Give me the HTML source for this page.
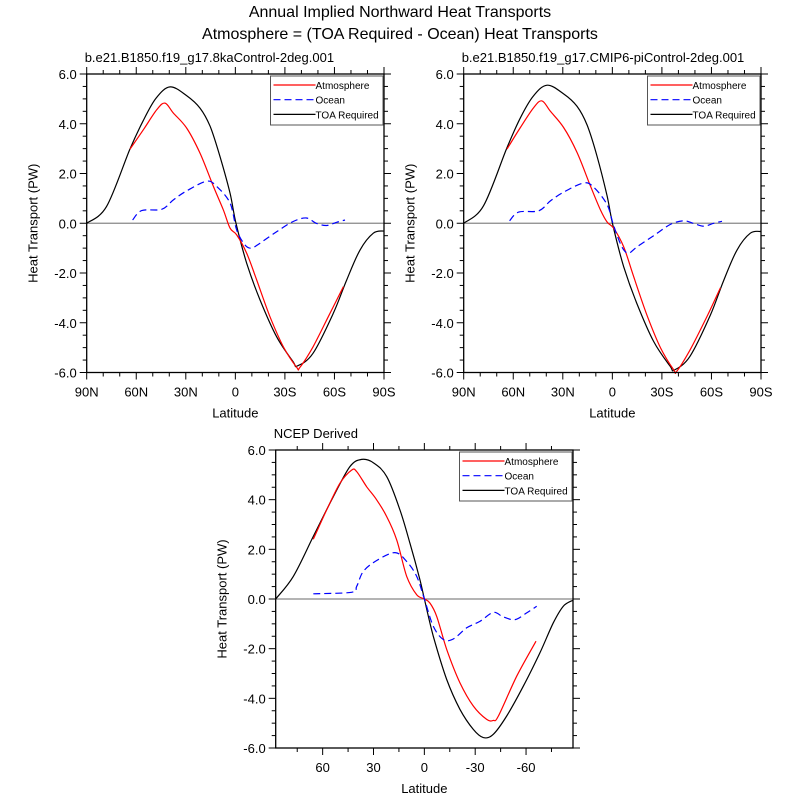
<!DOCTYPE html>
<html><head><meta charset="utf-8">
<style>
body{margin:0;background:#fff;}
svg{display:block;font-family:"Liberation Sans",sans-serif;}
</style></head>
<body>
<svg id="chart" width="800" height="800" viewBox="0 0 800 800">
<text x="400" y="17" text-anchor="middle" font-size="16">Annual Implied Northward Heat Transports</text>
<text x="400" y="39" text-anchor="middle" font-size="16">Atmosphere = (TOA Required - Ocean) Heat Transports</text>
</svg>
<script>
// ---- Data (latitude, PW) ----
const p1Lat_toa=[90,78,64,56,48,39.5,29.5,21.4,15.3,9.3,3.2,-0.4,-6.9,-15,-25,-35,-37.5,-47,-59.3,-67.4,-75.5,-83.5,-90];
const p1Val_toa=[0,0.67,2.95,4.1,5.03,5.48,5.13,4.63,3.9,2.68,1.2,0,-1.61,-3.09,-4.56,-5.57,-5.74,-5.23,-3.62,-2.28,-1.07,-0.4,-0.31];
const p1Lat_atm=[63.8,55.7,47.6,42.6,37.5,29.5,21.4,13.3,7.3,3.2,-0.8,-6.9,-12.9,-21,-29.1,-37.2,-39,-47,-57.3,-65.4];
const p1Val_atm=[2.98,3.76,4.56,4.83,4.43,3.83,2.82,1.48,0.54,-0.2,-0.47,-1.21,-2.28,-3.76,-4.97,-5.8,-5.8,-4.97,-3.62,-2.55];
const p1Lat_ocn=[62.2,56.7,44.6,37.5,29.5,17.4,11.3,3.2,-0.8,-5.8,-9.8,-14.9,-25,-35,-43,-49,-55.3,-61.3,-66.4];
const p1Val_ocn=[0.13,0.51,0.56,0.94,1.3,1.69,1.48,0.81,-0.27,-0.87,-1.0,-0.8,-0.34,0.07,0.21,0,-0.09,0.04,0.13];

const p2Lat_toa=[90,78,64,56,48,39.5,29.5,21.4,15.3,9.3,3.2,-0.4,-6.9,-15,-25,-35,-37.5,-47,-59.3,-67.4,-75.5,-83.5,-90];
const p2Val_toa=[0,0.7,3.0,4.2,5.1,5.55,5.2,4.7,3.95,2.7,1.1,-0.1,-1.75,-3.25,-4.75,-5.75,-5.9,-5.35,-3.7,-2.3,-1.07,-0.4,-0.33];
const p2Lat_atm=[63.8,55.7,47.6,42.6,37.5,29.5,21.4,13.3,7.3,3.2,-0.8,-6.9,-12.9,-21,-29.1,-37.2,-39,-47,-57.3,-65.4];
const p2Val_atm=[2.98,3.85,4.65,4.92,4.5,3.85,2.85,1.5,0.55,0.05,-0.2,-0.95,-2.15,-3.7,-5.0,-5.9,-5.95,-5.1,-3.75,-2.6];
const p2Lat_ocn=[62.2,56.7,44.6,37.5,29.5,17.4,11.3,3.2,-0.8,-5.8,-9.8,-14.9,-25,-35,-43,-49,-55.3,-61.3,-66.4];
const p2Val_ocn=[0.1,0.45,0.5,0.9,1.25,1.62,1.45,0.75,-0.1,-0.95,-1.2,-0.95,-0.5,-0.05,0.1,0.0,-0.12,0.0,0.08];

const p3Lat_toa=[87.7,77.3,65.5,53.7,43.9,37,30.1,22.2,14.4,8.5,2.6,0,-5.3,-13.2,-21,-28.9,-34.8,-40.7,-48.6,-58.4,-68.2,-76.1,-82,-87.7];
const p3Val_toa=[0,0.91,2.52,4.12,5.33,5.62,5.49,4.93,3.59,2.25,0.78,0,-1.5,-3.24,-4.44,-5.25,-5.58,-5.45,-4.71,-3.51,-2.17,-0.96,-0.29,-0.05];
const p3Lat_atm=[65.5,57.6,49.8,42.9,39.9,34,28.1,22.2,16.3,10.4,4.5,0,-3.3,-7.3,-13.2,-21,-28.9,-36.8,-40.7,-43.7,-54.5,-65.9];
const p3Val_atm=[2.41,3.59,4.66,5.19,5.13,4.52,3.99,3.32,2.38,0.91,0.17,0,-0.16,-0.7,-2.03,-3.37,-4.31,-4.85,-4.89,-4.71,-3.11,-1.7];
const p3Lat_ocn=[65.5,42.9,39.9,36,28.1,17.3,10.4,4.5,0,-5.3,-11.2,-17.1,-25,-32.8,-40.7,-46.6,-53.5,-60.4,-66.3];
const p3Val_ocn=[0.21,0.27,0.51,1.11,1.55,1.87,1.51,0.91,0,-1.1,-1.63,-1.61,-1.16,-0.9,-0.54,-0.72,-0.83,-0.56,-0.29];

const yTicks=[6,4,2,0,-2,-4,-6];
const yTickLabels=["6.0","4.0","2.0","0.0","-2.0","-4.0","-6.0"];
const xTicksAB=[90,60,30,0,-30,-60,-90];
const xTickLabelsAB=["90N","60N","30N","0","30S","60S","90S"];
const xTicksC=[60,30,0,-30,-60];
const xTickLabelsC=["60","30","0","-30","-60"];

const svg=document.getElementById('chart');
const NS='http://www.w3.org/2000/svg';
function mk(tag,attrs,parent){const e=document.createElementNS(NS,tag);for(const k in attrs)e.setAttribute(k,attrs[k]);(parent||svg).appendChild(e);return e;}

function pathFrom(pts){
  let d='M'+pts[0][0].toFixed(1)+','+pts[0][1].toFixed(1);
  for(let i=0;i<pts.length-1;i++){
    const p0=pts[i-1]||pts[i],p1=pts[i],p2=pts[i+1],p3=pts[i+2]||p2;
    const c1=[p1[0]+(p2[0]-p0[0])/6,p1[1]+(p2[1]-p0[1])/6];
    const c2=[p2[0]-(p3[0]-p1[0])/6,p2[1]-(p3[1]-p1[1])/6];
    d+=' C'+c1[0].toFixed(1)+','+c1[1].toFixed(1)+' '+c2[0].toFixed(1)+','+c2[1].toFixed(1)+' '+p2[0].toFixed(1)+','+p2[1].toFixed(1);
  }
  return d;
}

function panel(cfg){
  const g=mk('g',{});
  
  
  const L=cfg.x,T=cfg.y,W=cfg.w,H=cfg.h;
  const xs=lat=>L+(cfg.latMax-lat)/(2*cfg.latMax)*W;
  const ys=v=>T+(6-v)/12*H;
  // subtitle
  const st=mk('text',{x:L-2,y:T-12,'font-size':13},g);st.textContent=cfg.sub;
  
  
  // zero line
  const zl=mk('line',{x1:L,x2:L+W,y1:ys(0),y2:ys(0),stroke:'#888','stroke-width':1.2},g);
  
  
  // y ticks
  for(let v=-6;v<=6.001;v+=0.5){
    const maj=Math.abs(v%2)<1e-6, len=maj?7:4, y=ys(v);
    mk('line',{x1:L-len,x2:L,y1:y,y2:y,stroke:'#000','stroke-width':1},g);
    mk('line',{x1:L+W,x2:L+W+len,y1:y,y2:y,stroke:'#000','stroke-width':1},g);
  }
  yTicks.forEach((v,i)=>{const t=mk('text',{x:L-10,y:ys(v)+5,'text-anchor':'end','font-size':13},g);t.textContent=yTickLabels[i];
    
    });
  // x ticks
  for(let lat=-cfg.minorLim;lat<=cfg.minorLim+0.001;lat+=cfg.minor){
    const maj=Math.abs(lat%30)<1e-6, len=maj?7:4, x=xs(lat);
    mk('line',{x1:x,x2:x,y1:T+H,y2:T+H+len,stroke:'#000','stroke-width':1},g);
    mk('line',{x1:x,x2:x,y1:T-len,y2:T,stroke:'#000','stroke-width':1},g);
  }
  cfg.ticks.forEach((lat,i)=>{const t=mk('text',{x:xs(lat),y:T+H+24,'text-anchor':'middle','font-size':13},g);t.textContent=cfg.labels[i];
    
    });
  const xl=mk('text',{x:L+W/2,y:T+H+45,'text-anchor':'middle','font-size':13},g);xl.textContent='Latitude';
  
  
  const yl=mk('text',{x:0,y:0,'text-anchor':'middle','font-size':13,transform:`translate(${L-49},${T+H/2}) rotate(-90)`},g);yl.textContent='Heat Transport (PW)';
  
  
  // series
  const series=[
    [cfg.toaLat,cfg.toaVal,'#000','', 'toa-required-line'],
    [cfg.atmLat,cfg.atmVal,'#ff0000','','atmosphere-line'],
    [cfg.ocnLat,cfg.ocnVal,'#0000ff','7,4','ocean-line']];
  series.forEach(s=>{
    const pts=s[0].map((lat,i)=>[xs(lat),ys(s[1][i])]);
    const p=mk('path',{d:pathFrom(pts),fill:'none',stroke:s[2],'stroke-width':1.2,'stroke-dasharray':s[3]||'none'},g);
    
    
  });
  // frame
  const fr=mk('rect',{x:L,y:T,width:W,height:H,fill:'none',stroke:'#000','stroke-width':1.3},g);
  
  
  // legend
  const lx=L+W-113.5,ly=T+2;
  const lg=mk('g',{},g);
  
  
  mk('rect',{x:lx,y:ly,width:112.5,height:49,fill:'#fff',stroke:'#555','stroke-width':1},lg);
  const ent=[['Atmosphere','#ff0000',''],['Ocean','#0000ff','7,4'],['TOA Required','#000','']];
  ent.forEach((e,i)=>{
    const yy=ly+9+i*14.7;
    const ln=mk('line',{x1:lx+3,x2:lx+45,y1:yy,y2:yy,stroke:e[1],'stroke-width':1.2,'stroke-dasharray':e[2]||'none'},lg);
    
    
    const t=mk('text',{x:lx+45,y:yy+4,'font-size':10},lg);t.textContent=e[0];
    
    
  });
}

panel({name:'panel-kacontrol',x:86.7,y:74,w:297.3,h:298.5,latMax:90,minor:10,minorLim:90,
  sub:'b.e21.B1850.f19_g17.8kaControl-2deg.001',ticks:xTicksAB,labels:xTickLabelsAB,
  toaLat:p1Lat_toa,toaVal:p1Val_toa,atmLat:p1Lat_atm,atmVal:p1Val_atm,ocnLat:p1Lat_ocn,ocnVal:p1Val_ocn});
panel({name:'panel-cmip6-picontrol',x:463.7,y:74,w:297.3,h:298.5,latMax:90,minor:10,minorLim:90,
  sub:'b.e21.B1850.f19_g17.CMIP6-piControl-2deg.001',ticks:xTicksAB,labels:xTickLabelsAB,
  toaLat:p2Lat_toa,toaVal:p2Val_toa,atmLat:p2Lat_atm,atmVal:p2Val_atm,ocnLat:p2Lat_ocn,ocnVal:p2Val_ocn});
panel({name:'panel-ncep-derived',x:275.7,y:450,w:297.3,h:298,latMax:87.7,minor:15,minorLim:75,
  sub:'NCEP Derived',ticks:xTicksC,labels:xTickLabelsC,
  toaLat:p3Lat_toa,toaVal:p3Val_toa,atmLat:p3Lat_atm,atmVal:p3Val_atm,ocnLat:p3Lat_ocn,ocnVal:p3Val_ocn});
</script>
</body></html>
